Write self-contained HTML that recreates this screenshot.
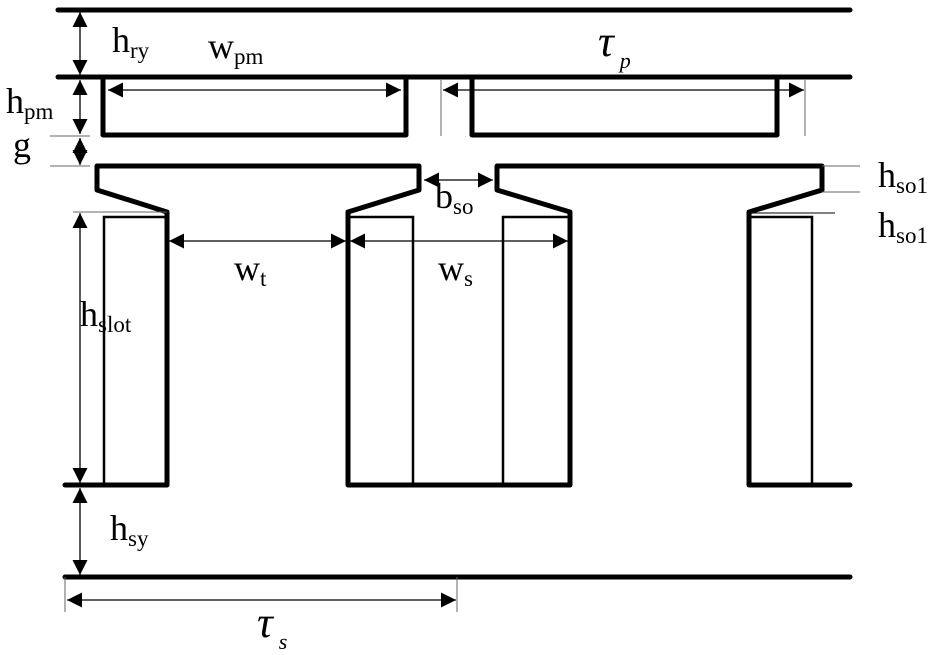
<!DOCTYPE html>
<html><head><meta charset="utf-8"><style>
html,body{margin:0;padding:0;background:#fff;}
svg{display:block;}
text{font-family:"Liberation Serif",serif;fill:#000;}
</style></head><body>
<svg width="951" height="655" viewBox="0 0 951 655" xmlns="http://www.w3.org/2000/svg">
<defs>
<marker id="a" viewBox="0 0 10 10" refX="10" refY="5" markerWidth="15" markerHeight="15" markerUnits="userSpaceOnUse" orient="auto-start-reverse"><path d="M0,0 L10,5 L0,10 z" fill="#000"/></marker>
</defs>
<g stroke="#000" stroke-width="5" stroke-linecap="round" stroke-linejoin="round" fill="none">
<line x1="58" y1="10" x2="850" y2="10"/>
<line x1="58" y1="77" x2="850" y2="77"/>
<polyline points="103,77 103,135 406,135 406,77"/>
<polyline points="472,77 472,135 777,135 777,77"/>
<polyline points="167,485 167,212 97,190 97,166 419,166 419,190 348,212 348,485 570,485 570,212 497,190 497,166 822,166 822,190 749,212 749,485 850,485"/>
<line x1="65" y1="485" x2="167" y2="485"/>
<line x1="65" y1="577" x2="850" y2="577"/>
</g>
<g stroke="#000" stroke-width="2.5" fill="none">
<polyline points="104,485 104,217 167,217"/>
<polyline points="348,217 413,217 413,485"/>
<polyline points="570,217 503,217 503,485"/>
<polyline points="749,217 812,217 812,485"/>
</g>
<g stroke="#666" stroke-width="1" fill="none">
<line x1="441" y1="80" x2="441" y2="136"/>
<line x1="805" y1="80" x2="805" y2="136"/>
<line x1="50" y1="136" x2="90" y2="136"/>
<line x1="50" y1="166" x2="90" y2="166"/>
<line x1="73" y1="212" x2="167" y2="212"/>
<line x1="822" y1="166" x2="860" y2="166"/>
<line x1="822" y1="192" x2="860" y2="192"/>
<line x1="65" y1="577" x2="65" y2="612"/>
<line x1="457" y1="577" x2="457" y2="612"/>
</g>
<line x1="752" y1="213" x2="835" y2="213" stroke="#000" stroke-width="1"/>
<g stroke="#000" stroke-width="1.3" fill="none" marker-start="url(#a)" marker-end="url(#a)">
<line x1="80" y1="12" x2="80" y2="75"/>
<line x1="80" y1="80" x2="80" y2="134"/>
<line x1="80" y1="138" x2="80" y2="165"/>
<line x1="80" y1="213" x2="80" y2="483"/>
<line x1="80" y1="488" x2="80" y2="575"/>
<line x1="108" y1="90" x2="401" y2="90"/>
<line x1="443" y1="90" x2="804" y2="90"/>
<line x1="169" y1="241" x2="346" y2="241"/>
<line x1="350" y1="241" x2="568" y2="241"/>
<line x1="424" y1="180" x2="493" y2="180"/>
<line x1="67" y1="600" x2="456" y2="600"/>
</g>
<g font-size="36">
<text x="112" y="52">h<tspan font-size="23" dy="6">ry</tspan></text>
<text x="208" y="58">w<tspan font-size="23" dy="6">pm</tspan></text>
<text x="6" y="113">h<tspan font-size="23" dy="6">pm</tspan></text>
<text x="13" y="157">g</text>
<text x="435" y="208">b<tspan font-size="23" dy="6">so</tspan></text>
<text x="878" y="187">h<tspan font-size="23" dy="6">so1</tspan></text>
<text x="878" y="237">h<tspan font-size="23" dy="6">so1</tspan></text>
<text x="234" y="280">w<tspan font-size="23" dy="6">t</tspan></text>
<text x="438" y="280">w<tspan font-size="23" dy="6">s</tspan></text>
<text x="80" y="326">h<tspan font-size="23" dy="6">slot</tspan></text>
<text x="110" y="540">h<tspan font-size="23" dy="6">sy</tspan></text>
<text x="598" y="56" font-style="italic" font-size="44">τ<tspan font-size="22" dx="6" dy="12">p</tspan></text>
<text x="257" y="637" font-style="italic" font-size="44">τ<tspan font-size="22" dx="6" dy="12">s</tspan></text>
</g>
</svg>
</body></html>
